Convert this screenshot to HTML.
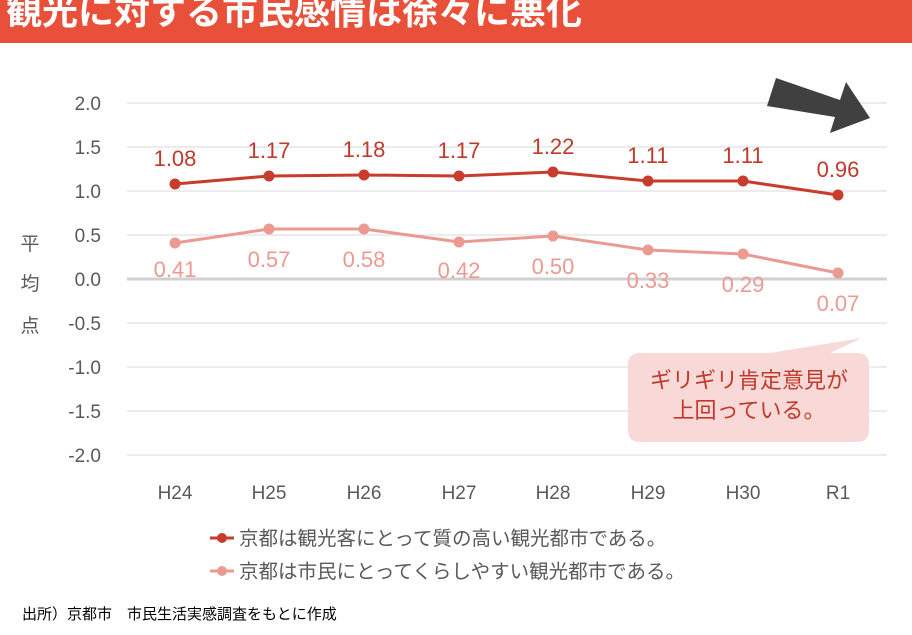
<!DOCTYPE html>
<html><head><meta charset="utf-8"><style>
body{margin:0;width:912px;height:630px;background:#fff;overflow:hidden;font-family:"Liberation Sans","Noto Sans CJK JP",sans-serif}
</style></head><body>
<svg width="912" height="630" xmlns="http://www.w3.org/2000/svg" font-family="Liberation Sans, Noto Sans CJK JP, sans-serif">
<rect x="0" y="0" width="912" height="43" fill="#E8503A"/>
<text x="6" y="24" font-size="36" font-weight="bold" fill="#fff">観光に対する市民感情は徐々に悪化</text>
<g stroke="#d9d9d9" stroke-width="1">
<line x1="127" y1="103" x2="887" y2="103"/><line x1="127" y1="147" x2="887" y2="147"/>
<line x1="127" y1="191" x2="887" y2="191"/><line x1="127" y1="235" x2="887" y2="235"/>
<line x1="127" y1="323" x2="887" y2="323"/><line x1="127" y1="367" x2="887" y2="367"/>
<line x1="127" y1="411" x2="887" y2="411"/><line x1="127" y1="455" x2="887" y2="455"/>
</g>
<line x1="127" y1="279" x2="887" y2="279" stroke="#d0d0d0" stroke-width="3"/>
<g font-size="19" fill="#595959" text-anchor="end">
<text x="101" y="110">2.0</text><text x="101" y="154">1.5</text><text x="101" y="198">1.0</text>
<text x="101" y="242">0.5</text><text x="101" y="286">0.0</text><text x="101" y="330">-0.5</text>
<text x="101" y="374">-1.0</text><text x="101" y="418">-1.5</text><text x="101" y="462">-2.0</text>
</g>
<g font-size="19" fill="#595959" text-anchor="middle">
<text x="30" y="250">平</text><text x="30" y="290">均</text><text x="30" y="332">点</text>
<text x="175" y="499">H24</text><text x="269" y="499">H25</text><text x="364" y="499">H26</text><text x="459" y="499">H27</text>
<text x="553" y="499">H28</text><text x="648" y="499">H29</text><text x="743" y="499">H30</text><text x="838" y="499">R1</text>
</g>
<polygon points="776,78 840,100 846,82 870,118 830,133 835,117 767,106" fill="#404040"/>
<polyline fill="none" stroke="#c83c2d" stroke-width="3" points="175,184 269,176 364,175 459,176 553,172 648,181 743,181 838,195"/>
<g fill="#c83c2d">
<circle cx="175" cy="184" r="5.5"/><circle cx="269" cy="176" r="5.5"/><circle cx="364" cy="175" r="5.5"/><circle cx="459" cy="176" r="5.5"/>
<circle cx="553" cy="172" r="5.5"/><circle cx="648" cy="181" r="5.5"/><circle cx="743" cy="181" r="5.5"/><circle cx="838" cy="195" r="5.5"/>
</g>
<g font-size="22" fill="#c0392b" text-anchor="middle">
<text x="175" y="166">1.08</text><text x="269" y="158">1.17</text><text x="364" y="157">1.18</text><text x="459" y="158">1.17</text>
<text x="553" y="154">1.22</text><text x="648" y="163">1.11</text><text x="743" y="163">1.11</text><text x="838" y="177">0.96</text>
</g>
<polyline fill="none" stroke="#eb9a92" stroke-width="3" points="175,243 269,229 364,229 459,242 553,236 648,250 743,254 838,273"/>
<g fill="#eb9a92">
<circle cx="175" cy="243" r="5.5"/><circle cx="269" cy="229" r="5.5"/><circle cx="364" cy="229" r="5.5"/><circle cx="459" cy="242" r="5.5"/>
<circle cx="553" cy="236" r="5.5"/><circle cx="648" cy="250" r="5.5"/><circle cx="743" cy="254" r="5.5"/><circle cx="838" cy="273" r="5.5"/>
</g>
<g font-size="22" fill="#eb9a92" text-anchor="middle">
<text x="175" y="277">0.41</text><text x="269" y="267">0.57</text><text x="364" y="267">0.58</text><text x="459" y="278">0.42</text>
<text x="553" y="274">0.50</text><text x="648" y="288">0.33</text><text x="743" y="292">0.29</text><text x="838" y="311">0.07</text>
</g>
<path d="M640,353 L770,353 L862,338 L830,353 L857,353 Q869,353 869,365 L869,430 Q869,442 857,442 L640,442 Q628,442 628,430 L628,365 Q628,353 640,353 Z" fill="#f9d9d7"/>
<g font-size="22" fill="#c0392b" text-anchor="middle">
<text x="749" y="388">ギリギリ肯定意見が</text><text x="749" y="418">上回っている。</text>
</g>
<line x1="210" y1="538" x2="234" y2="538" stroke="#c83c2d" stroke-width="3"/><circle cx="222" cy="538" r="5" fill="#c83c2d"/>
<line x1="210" y1="571" x2="234" y2="571" stroke="#eb9a92" stroke-width="3"/><circle cx="222" cy="571" r="5" fill="#eb9a92"/>
<g font-size="19.5" fill="#595959">
<text x="239" y="545">京都は観光客にとって質の高い観光都市である。</text>
<text x="239" y="578">京都は市民にとってくらしやすい観光都市である。</text>
</g>
<text x="22" y="619" font-size="15" fill="#000">出所）京都市　市民生活実感調査をもとに作成</text>
</svg>
</body></html>
